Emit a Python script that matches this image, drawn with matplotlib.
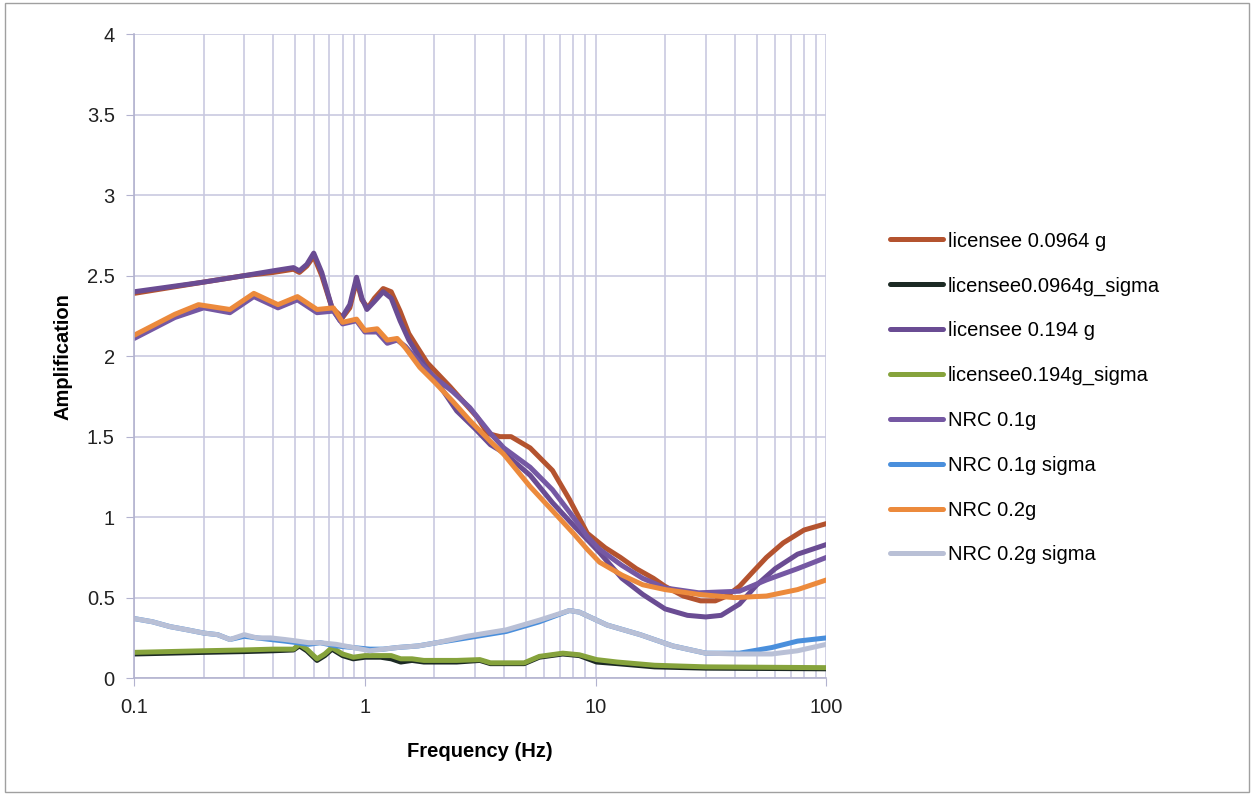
import numpy as np
import matplotlib.pyplot as plt
from matplotlib.ticker import FixedLocator, LogLocator, NullFormatter

plt.rcParams["font.family"] = ["Liberation Sans", "DejaVu Sans"]

# ---- data ----
lic0964_f = [0.1, 0.2, 0.3, 0.4, 0.49, 0.52, 0.56, 0.6, 0.65, 0.72, 0.8, 0.86,
             0.92, 0.97, 1.03, 1.1, 1.2, 1.3, 1.42, 1.55, 1.68, 1.86, 2.34,
             3.07, 3.4, 3.85, 4.3, 5.2, 6.5, 7.7, 9.2, 11, 12.8, 15, 17.8,
             20, 24, 28.5, 33, 37, 42, 48, 55, 65, 80, 100]
lic0964_a = [2.39, 2.46, 2.50, 2.52, 2.54, 2.52, 2.56, 2.62, 2.50, 2.30, 2.24,
             2.30, 2.47, 2.35, 2.30, 2.36, 2.42, 2.40, 2.28, 2.14, 2.06, 1.96,
             1.81, 1.62, 1.52, 1.50, 1.50, 1.43, 1.29, 1.11, 0.90, 0.81, 0.75,
             0.68, 0.62, 0.57, 0.51, 0.48, 0.48, 0.51, 0.57, 0.66, 0.75, 0.84,
             0.92, 0.96]

lic0194_f = [0.1, 0.2, 0.3, 0.4, 0.49, 0.52, 0.56, 0.6, 0.65, 0.72, 0.78, 0.86,
             0.92, 0.97, 1.02, 1.1, 1.2, 1.3, 1.42, 1.55, 1.8, 2.1, 2.5, 3.0,
             3.5, 4.0, 5.2, 6.5, 8.0, 9.2, 10.4, 13, 16, 20, 25, 30, 35, 42,
             50, 60, 75, 100]
lic0194_a = [2.40, 2.46, 2.50, 2.53, 2.55, 2.53, 2.57, 2.64, 2.52, 2.30, 2.22,
             2.32, 2.49, 2.36, 2.29, 2.34, 2.40, 2.36, 2.22, 2.10, 1.95, 1.82,
             1.66, 1.55, 1.45, 1.40, 1.26, 1.09, 0.95, 0.86, 0.78, 0.62, 0.52,
             0.43, 0.39, 0.38, 0.39, 0.46, 0.58, 0.68, 0.77, 0.83]

nrc01_f = [0.1, 0.15, 0.2, 0.26, 0.33, 0.42, 0.51, 0.62, 0.73, 0.8, 0.92, 1.0,
           1.13, 1.25, 1.38, 1.5, 1.75, 2.0, 2.4, 2.85, 3.5, 4.0, 5.2, 6.5,
           8.0, 9.2, 10.4, 13, 16, 20, 28, 42, 55, 75, 100]
nrc01_a = [2.11, 2.24, 2.30, 2.27, 2.37, 2.30, 2.35, 2.27, 2.28, 2.20, 2.22,
           2.15, 2.15, 2.08, 2.10, 2.06, 1.95, 1.87, 1.78, 1.68, 1.52, 1.43,
           1.31, 1.17, 1.00, 0.88, 0.80, 0.70, 0.62, 0.56, 0.53, 0.54, 0.61,
           0.68, 0.75]

nrc02_f = [0.1, 0.15, 0.19, 0.26, 0.33, 0.42, 0.51, 0.62, 0.73, 0.8, 0.92, 1.0,
           1.13, 1.25, 1.38, 1.5, 1.73, 2.0, 2.4, 2.85, 3.5, 4.0, 5.2, 6.5,
           8.0, 9.2, 10.4, 13, 16, 20, 28, 40, 55, 75, 100]
nrc02_a = [2.13, 2.26, 2.32, 2.29, 2.39, 2.32, 2.37, 2.29, 2.30, 2.21, 2.23,
           2.16, 2.17, 2.10, 2.11, 2.05, 1.93, 1.84, 1.72, 1.60, 1.47, 1.39,
           1.19, 1.04, 0.90, 0.80, 0.72, 0.64, 0.58, 0.55, 0.52, 0.50, 0.51,
           0.55, 0.61]

licsig_f = [0.1, 0.2, 0.3, 0.4, 0.49, 0.52, 0.56, 0.62, 0.67, 0.72, 0.8, 0.89,
            1.0, 1.17, 1.3, 1.43, 1.6, 1.8, 2.05, 2.5, 3.15, 3.5, 4.9, 5.7,
            7.2, 8.5, 10.1, 12.4, 18, 30, 100]
lic0964_sig = [0.15, 0.16, 0.165, 0.17, 0.175, 0.20, 0.17, 0.11, 0.14, 0.18,
               0.14, 0.12, 0.13, 0.13, 0.12, 0.10, 0.11, 0.10, 0.10, 0.10,
               0.11, 0.09, 0.09, 0.13, 0.15, 0.14, 0.10, 0.09, 0.07, 0.062,
               0.058]
lic0194_sig = [0.16, 0.17, 0.175, 0.18, 0.18, 0.21, 0.18, 0.12, 0.15, 0.19,
               0.15, 0.13, 0.14, 0.14, 0.14, 0.12, 0.12, 0.11, 0.11, 0.11,
               0.115, 0.095, 0.095, 0.135, 0.155, 0.145, 0.115, 0.10, 0.08,
               0.07, 0.065]

nrcsig_f = [0.1, 0.12, 0.143, 0.17, 0.2, 0.23, 0.26, 0.3, 0.34, 0.39, 0.45,
            0.51, 0.57, 0.64, 0.75, 0.89, 1.05, 1.2, 1.38, 1.7, 2.05, 2.77,
            4.1, 5.7, 7.7, 8.5, 11.2, 15.6, 21.6, 30, 42, 58, 75, 100]
nrc01_sig = [0.37, 0.35, 0.32, 0.30, 0.28, 0.27, 0.24, 0.26, 0.25, 0.24, 0.23,
             0.22, 0.21, 0.22, 0.20, 0.19, 0.18, 0.18, 0.19, 0.20, 0.22, 0.25,
             0.29, 0.35, 0.42, 0.41, 0.33, 0.27, 0.20, 0.155, 0.155, 0.19,
             0.23, 0.25]
nrc02_sig = [0.37, 0.35, 0.32, 0.30, 0.28, 0.27, 0.24, 0.27, 0.25, 0.25, 0.24,
             0.23, 0.22, 0.22, 0.21, 0.19, 0.17, 0.18, 0.19, 0.20, 0.22, 0.26,
             0.30, 0.36, 0.42, 0.41, 0.33, 0.27, 0.20, 0.155, 0.15, 0.15,
             0.17, 0.21]

series = [
    ("licensee 0.0964 g", lic0964_f, lic0964_a, "#b4532f"),
    ("licensee0.0964g_sigma", licsig_f, lic0964_sig, "#1c2a24"),
    ("licensee 0.194 g", lic0194_f, lic0194_a, "#6a4c93"),
    ("licensee0.194g_sigma", licsig_f, lic0194_sig, "#86a33c"),
    ("NRC 0.1g", nrc01_f, nrc01_a, "#7558a3"),
    ("NRC 0.1g sigma", nrcsig_f, nrc01_sig, "#4a8fdc"),
    ("NRC 0.2g", nrc02_f, nrc02_a, "#ec8a3c"),
    ("NRC 0.2g sigma", nrcsig_f, nrc02_sig, "#b9c0d6"),
]

fig = plt.figure(figsize=(12.54, 7.95), dpi=100)
fig.patch.set_facecolor("white")
ax = fig.add_axes([0.107, 0.147, 0.552, 0.81])

for name, f, a, c in series:
    ax.plot(f, a, color=c, lw=3.6, label=name,
            solid_joinstyle="round", solid_capstyle="round")

ax.set_xscale("log")
ax.set_xlim(0.1, 100)
ax.set_ylim(0, 4)
ax.set_yticks(np.arange(0, 4.01, 0.5))
ax.set_yticklabels(["0", "0.5", "1", "1.5", "2", "2.5", "3", "3.5", "4"])
ax.xaxis.set_major_locator(FixedLocator([0.1, 1, 10, 100]))
ax.set_xticklabels(["0.1", "1", "10", "100"])
ax.xaxis.set_minor_locator(LogLocator(base=10, subs=np.arange(2, 10)))
ax.xaxis.set_minor_formatter(NullFormatter())

grid_c = "#c9c9e0"
ax.grid(True, which="major", color=grid_c, lw=1.2)
ax.grid(True, which="minor", axis="x", color=grid_c, lw=1.2)
ax.set_axisbelow(True)
for s in ["top", "right"]:
    ax.spines[s].set_visible(False)
for s in ["left", "bottom"]:
    ax.spines[s].set_color("#b3b3cf")
    ax.spines[s].set_linewidth(1.2)
ax.tick_params(which="major", length=6, color="#b3b3cf", labelsize=14.5,
               labelcolor="#222222", pad=8)
ax.tick_params(which="minor", length=0)

ax.set_xlabel("Frequency (Hz)", fontsize=14.5, fontweight="bold", labelpad=18)
ax.set_ylabel("Amplification", fontsize=14.5, fontweight="bold", labelpad=10)

ax.legend(loc="center left", bbox_to_anchor=(1.066, 0.435), frameon=False,
          fontsize=14.5, handlelength=2.6, handletextpad=0.25,
          labelspacing=1.28)

fig.add_artist(plt.Rectangle((0.004, 0.004), 0.992, 0.992, fill=False,
                             ec="#a0a0a0", lw=1, transform=fig.transFigure))

fig.savefig("out.png", dpi=100)
